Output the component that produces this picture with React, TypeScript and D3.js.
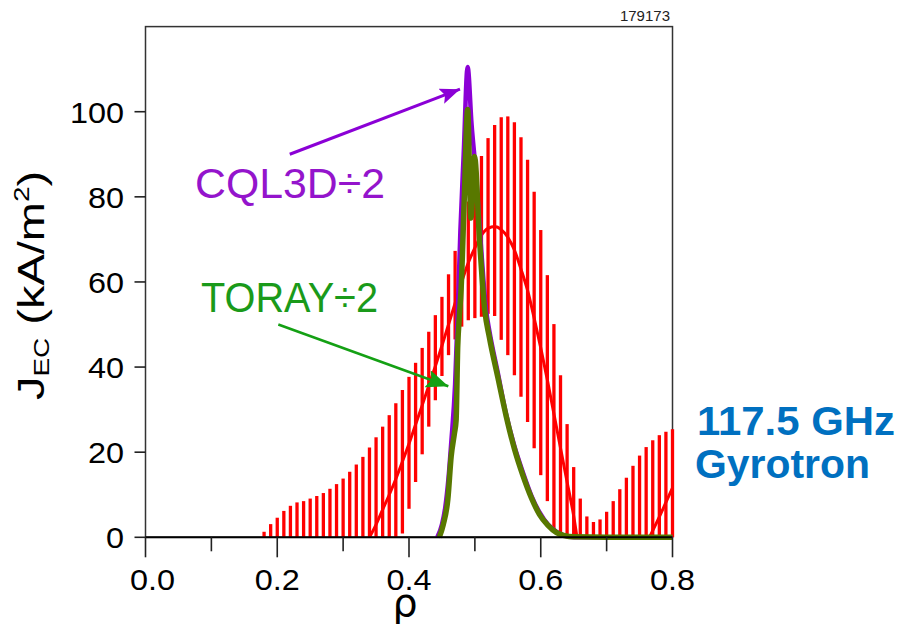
import React from 'react';
import * as d3 from 'd3';

// ---- data ----
const barRho = [0.18, 0.19, 0.20, 0.21, 0.22, 0.23, 0.24, 0.25, 0.26, 0.27, 0.28, 0.29, 0.30, 0.31, 0.32, 0.33, 0.34, 0.35, 0.36, 0.37, 0.38, 0.39, 0.40, 0.41, 0.42, 0.43, 0.44, 0.45, 0.46, 0.47, 0.48, 0.49, 0.50, 0.51, 0.52, 0.53, 0.54, 0.55, 0.56, 0.57, 0.58, 0.59, 0.60, 0.61, 0.62, 0.63, 0.64, 0.65, 0.66, 0.67, 0.68, 0.69, 0.70, 0.71, 0.72, 0.73, 0.74, 0.75, 0.76, 0.77, 0.78, 0.79, 0.80];
const barLow = [0, 0, 0, 0, 0, 0, 0, 0, 0, 0, 0, 0, 0, 0, 0, 0, 0, 0, 0, 0, 0, 0.9, 6.7, 13, 19.5, 26, 32.2, 37.9, 42.8, 46.5, 49.5, 51, 51.5, 51.8, 52.5, 52, 46.4, 42.8, 38.1, 33, 27.1, 20.9, 14.6, 8.5, 1.5, 0, 0, 0, 0, 0, 0, 0, 0, 0, 0, 0, 0, 0, 0, 0, 0, 0, 0];
const barHigh = [1.3, 3.1, 4.6, 6.2, 7.4, 8.2, 8.5, 9.1, 9.7, 10.4, 11.4, 12.5, 13.8, 15.4, 17.1, 18.9, 21.1, 23.5, 26.0, 28.7, 31.5, 34.6, 37.7, 41, 44.5, 48.3, 52.2, 56.5, 61.8, 67.3, 73, 78.9, 84.5, 89.6, 93.8, 96.9, 98.7, 98.9, 97.5, 94, 88.7, 81.2, 72.2, 61.6, 50.1, 38.1, 26.6, 16.5, 9.1, 4.9, 3.6, 4.2, 6.0, 8.5, 11.3, 14.0, 16.8, 19.2, 21.2, 22.8, 24.0, 24.8, 25.4];

const fitRho = [0.34, 0.35, 0.36, 0.37, 0.38, 0.39, 0.40, 0.41, 0.42, 0.43, 0.44, 0.45, 0.46, 0.47, 0.48, 0.49, 0.50, 0.51, 0.52, 0.53, 0.54, 0.55, 0.56, 0.57, 0.58, 0.59, 0.60, 0.61, 0.62, 0.63, 0.64, 0.65, 0.655];
const fitVal = [0, 3, 6.5, 10, 13.7, 17.8, 22, 26.5, 31, 35.6, 40.2, 45, 50, 55, 60, 64.5, 68, 71, 72.6, 73, 72.3, 70.5, 67.5, 63, 58, 51.5, 44.5, 37, 29, 21, 13, 5, 0];
const fit2Rho = [0.765, 0.78, 0.79, 0.80];
const fit2Val = [0, 4.8, 8.2, 11.6];

const cqlRho = [0.443, 0.450, 0.455, 0.460, 0.464, 0.470, 0.4745, 0.478, 0.483, 0.489, 0.495, 0.502, 0.509, 0.517, 0.522, 0.535, 0.547, 0.560, 0.573, 0.586, 0.598, 0.611, 0.624, 0.636, 0.650, 0.70, 0.80];
const cqlVal = [0, 3, 7, 14, 22, 36, 55, 72, 90, 110.5, 97, 84.8, 69, 53.4, 48.5, 38.5, 29.2, 21.4, 15.2, 9.7, 5.9, 3.0, 1.3, 0.4, 0, 0, 0];

const torayRho = [0.446, 0.452, 0.459, 0.464, 0.469, 0.4715, 0.474, 0.4765, 0.479, 0.484, 0.489, 0.494, 0.4995, 0.507, 0.515, 0.522, 0.535, 0.5475, 0.560, 0.573, 0.586, 0.598, 0.611, 0.624, 0.636, 0.650, 0.70, 0.80];
const torayVal = [0, 3, 9, 19, 24.5, 27.5, 45, 52, 58, 80, 100.5, 75, 89.5, 70, 53.4, 47, 37.5, 28.5, 20.8, 14.5, 9.2, 5.4, 2.8, 1.1, 0.4, 0.1, 0, 0];

const xTicks = [0, 0.1, 0.2, 0.3, 0.4, 0.5, 0.6, 0.7, 0.8];
const xLabelValues = [0, 0.2, 0.4, 0.6, 0.8];
const xLabels = ['0.0', '0.2', '0.4', '0.6', '0.8'];
const yTicks = [0, 20, 40, 60, 80, 100];
const yLabels = ['0', '20', '40', '60', '80', '100'];

const shotNumber = '179173';
const cqlLabel = 'CQL3D÷2';
const torayLabel = 'TORAY÷2';
const sourceLine1 = '117.5 GHz';
const sourceLine2 = 'Gyrotron';

const FONT = '"Liberation Sans", Arial, sans-serif';
const RED = '#ff0000';
const PURPLE = '#8b00d6';
const OLIVE = '#587800';
const GREEN_TXT = '#1a9a1a';
const BLUE = '#0070c0';

export default function App() {
  const x = d3.scaleLinear().domain([0, 0.8]).range([145.5, 672.5]);
  const y = d3.scaleLinear().domain([0, 120]).range([537.3, 26.6]);

  const mkLine = (curve: any) =>
    d3.line<[number, number]>().x(d => x(d[0])).y(d => y(d[1])).curve(curve);

  const fitPath = mkLine(d3.curveMonotoneX)(fitRho.map((r, i) => [r, fitVal[i]]));
  const fit2Path = mkLine(d3.curveMonotoneX)(fit2Rho.map((r, i) => [r, fit2Val[i]]));
  const cqlPath = mkLine(d3.curveMonotoneX)(cqlRho.map((r, i) => [r, cqlVal[i]]));
  const torayPath = mkLine(d3.curveMonotoneX)(torayRho.map((r, i) => [r, torayVal[i]]));

  const x0 = x(0), x1 = x(0.8), yTop = y(120), yBot = y(0);

  // annotation arrows in data coordinates
  const cqlArrow = { from: [0.219, 90], to: [0.4774, 105.3] };
  const torayArrow = { from: [0.2016, 50], to: [0.4597, 35.5] };

  return (
    <svg width={899} height={630} style={{ position: 'absolute', left: 0, top: 0, background: '#fff' }} fontFamily={FONT}>
      <defs>
        <marker id="ahP" viewBox="0 0 20 16" refX="20" refY="8" markerWidth="20" markerHeight="16" markerUnits="userSpaceOnUse" orient="auto">
          <path d="M0,0 L20,8 L0,16 L4,8 Z" fill={PURPLE} />
        </marker>
        <marker id="ahG" viewBox="0 0 22 18" refX="22" refY="9" markerWidth="22" markerHeight="18" markerUnits="userSpaceOnUse" orient="auto">
          <path d="M0,0 L22,9 L0,18 L4,9 Z" fill="#14a014" />
        </marker>
      </defs>
      <rect x={0} y={0} width={899} height={630} fill="#fff" />

      {/* frame */}
      <rect x={x0} y={yTop} width={x1 - x0} height={yBot - yTop} fill="none" stroke="#333" strokeWidth={1.5} />

      {/* error bars */}
      {barRho.map((r, i) => (
        <line key={'b' + i} x1={x(r)} x2={x(r)} y1={y(barLow[i])} y2={y(barHigh[i])} stroke={RED} strokeWidth={3.3} />
      ))}
      {/* fit */}
      <path d={fitPath || ''} fill="none" stroke={RED} strokeWidth={3} />
      <path d={fit2Path || ''} fill="none" stroke={RED} strokeWidth={3} />
      {/* CQL3D */}
      <path d={cqlPath || ''} fill="none" stroke={PURPLE} strokeWidth={4.5} strokeLinejoin="miter" />
      {/* TORAY */}
      <path d={torayPath || ''} fill="none" stroke={OLIVE} strokeWidth={5.5} strokeLinejoin="round" />

      {/* bottom axis line */}
      <line x1={x0} x2={x1} y1={yBot} y2={yBot} stroke="#000" strokeWidth={2} />
      {xTicks.map((t, i) => (
        <line key={'xt' + i} x1={x(t)} x2={x(t)} y1={yBot} y2={yBot + (i % 2 === 0 ? 20 : 14)} stroke="#222" strokeWidth={1.6} />
      ))}
      {xLabelValues.map((t, i) => (
        <text key={'xl' + i} x={x(t) + (i === 0 ? 7 : 0)} y={590} textAnchor="middle" fontSize={30} fill="#000" transform={`translate(${x(t) + (i === 0 ? 7 : 0)},0) scale(1.08,1) translate(${-(x(t) + (i === 0 ? 7 : 0))},0)`}>{xLabels[i]}</text>
      ))}
      {yTicks.map((t, i) => (
        <g key={'yt' + i}>
          <line x1={x0 - 11} x2={x0} y1={y(t)} y2={y(t)} stroke="#222" strokeWidth={1.6} />
          <text x={124} y={y(t) + 11} textAnchor="end" fontSize={30} fill="#000" transform={`translate(124,0) scale(1.08,1) translate(-124,0)`}>{yLabels[i]}</text>
        </g>
      ))}

      {/* axis titles */}
      <text x={405} y={616} textAnchor="middle" fontSize={36} fontFamily='"DejaVu Sans", sans-serif' fill="#000" transform="translate(405,616) scale(1.1,1.1) translate(-405,-616)">ρ</text>
      <text transform="translate(44,400) rotate(-90) scale(1.27,1)" fontSize={37} fill="#000">
        J<tspan fontSize={22} dy={5}>EC</tspan><tspan dy={-5}> (kA/m</tspan><tspan fontSize={22} dy={-15}>2</tspan><tspan dy={15}>)</tspan>
      </text>

      {/* shot number */}
      <text x={670} y={21} textAnchor="end" fontSize={15} fill="#222">{shotNumber}</text>

      {/* annotations */}
      <line x1={x(cqlArrow.from[0])} y1={y(cqlArrow.from[1])} x2={x(cqlArrow.to[0])} y2={y(cqlArrow.to[1])} stroke={PURPLE} strokeWidth={3} markerEnd="url(#ahP)" />
      <text x={195} y={198} fontSize={43} fill="#9414cc" textLength={190} lengthAdjust="spacingAndGlyphs">{cqlLabel}</text>
      <line x1={x(torayArrow.from[0])} y1={y(torayArrow.from[1])} x2={x(torayArrow.to[0])} y2={y(torayArrow.to[1])} stroke="#14a014" strokeWidth={2.5} markerEnd="url(#ahG)" />
      <text x={201} y={312} fontSize={43} fill={GREEN_TXT} textLength={177} lengthAdjust="spacingAndGlyphs">{torayLabel}</text>

      {/* source label */}
      <text x={697} y={435} fontSize={41} fontWeight="bold" fill={BLUE} textLength={198} lengthAdjust="spacingAndGlyphs">{sourceLine1}</text>
      <text x={695} y={478} fontSize={41} fontWeight="bold" fill={BLUE} textLength={175} lengthAdjust="spacingAndGlyphs">{sourceLine2}</text>
    </svg>
  );
}
